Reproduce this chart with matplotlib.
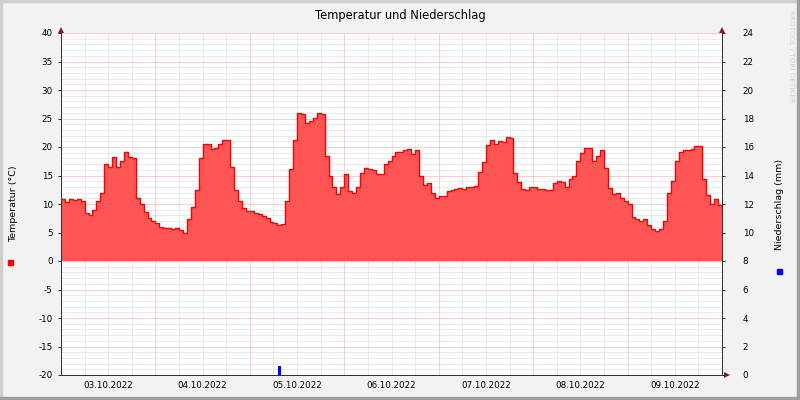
import matplotlib
matplotlib.use('Agg')
import matplotlib.pyplot as plt
import matplotlib.transforms as mtransforms
from matplotlib.patches import Rectangle
import numpy as np

# ---------------- data ----------------
# hourly temperature (°C), hour 0 = 03.10.2022 00:00
temperature = [
    10.9, 10.4, 10.8, 10.7, 10.9, 10.6, 8.4, 8.0, 9.0, 10.5,
    12.0, 17.0, 16.5, 18.3, 16.5, 17.5, 19.2, 18.3, 18.0, 11.0,
    10.0, 8.6, 7.5, 7.0, 6.6, 5.9, 5.8, 5.8, 5.7, 5.8,
    5.4, 5.0, 7.3, 9.5, 12.5, 18.0, 20.6, 20.5, 19.7, 19.9,
    20.6, 21.2, 21.2, 16.5, 12.5, 10.5,
    9.3, 8.7, 8.7, 8.5, 8.2, 7.9, 7.5, 6.8, 6.7, 6.4,
    6.5, 10.5, 16.2, 21.2, 26.0, 25.8, 24.2, 24.6, 25.1, 26.0,
    25.8, 18.5, 15.0, 13.0, 11.7, 13.0, 15.2, 12.2, 12.0, 13.0,
    15.4, 16.4, 16.2, 15.9, 15.3, 15.2, 17.0, 17.6, 18.5, 19.1,
    19.2, 19.4, 19.6, 18.7, 19.5, 15.0, 13.3, 13.7, 12.0, 11.0,
    11.4,
    11.4, 12.2, 12.5, 12.6, 12.8, 12.7, 12.9, 13.0, 13.2, 15.6,
    17.3, 20.4, 21.2, 20.6, 21.1, 20.8, 21.8, 21.5, 15.5, 13.9,
    12.6, 12.5, 12.9, 12.9, 12.7, 12.6, 12.5, 12.4, 13.7, 14.1,
    13.8, 12.9, 14.3, 14.9, 17.5, 18.9, 19.9, 19.9, 17.6, 18.5,
    19.4, 16.3, 12.8, 11.7, 12.0, 11.0, 10.6, 10.0, 7.8, 7.4,
    7.1, 7.3, 6.3, 5.7, 5.3, 5.6, 7.0, 11.9, 14.0, 17.5,
    19.2, 19.5, 19.4, 19.7, 20.2, 20.2, 14.3, 11.5, 10.0, 10.8,
    9.9, 9.3,
]
hours = list(range(len(temperature)))

# precipitation events (hour, mm)
rain_hours = [55.5]
rain_mm = [0.6]

date_labels = ['03.10.2022', '04.10.2022', '05.10.2022', '06.10.2022',
               '07.10.2022', '08.10.2022', '09.10.2022']
date_label_hours = [12, 36, 60, 84, 108, 132, 156]

temp_ticks = [-20, -15, -10, -5, 0, 5, 10, 15, 20, 25, 30, 35, 40]
rain_ticks = [0, 2, 4, 6, 8, 10, 12, 14, 16, 18, 20, 22, 24]

title = 'Temperatur und Niederschlag'
ylabel_left = 'Temperatur (°C)'
ylabel_right = 'Niederschlag (mm)'
watermark = 'RRDTOOL / TOBI OETIKER'

# ---------------- style ----------------
W, H = 800, 400
BG = '#F2F2F2'
AXC = '#333333'
ARROW = '#801F1F'
MINOR = '#D6D6D6'
MAJOR = '#EDA6A6'
FILL = '#FF5555'
LINE = '#FF0000'
plt.rcParams['font.family'] = ['DejaVu Sans']

fig = plt.figure(figsize=(W / 100, H / 100), dpi=100, facecolor=BG)

# outer 3D frame
fig.patches.append(Rectangle((0, 1 - 2 / H), 1, 2 / H, transform=fig.transFigure,
                             color='#CFCFCF', zorder=0))
fig.patches.append(Rectangle((0, 0), 2 / W, 1, transform=fig.transFigure,
                             color='#CFCFCF', zorder=0))
fig.patches.append(Rectangle((0, 0), 1, 3 / H, transform=fig.transFigure,
                             color='#9E9E9E', zorder=0))
fig.patches.append(Rectangle((1 - 3 / W, 0), 3 / W, 1, transform=fig.transFigure,
                             color='#9E9E9E', zorder=0))

x0, x1, y0, y1 = 61, 722, 33, 375
ax = fig.add_axes([x0 / W, 1 - y1 / H, (x1 - x0) / W, (y1 - y0) / H])
ax.set_facecolor('white')
ax.set_xlim(0, 168)
ax.set_ylim(-20, 40)

dot = (0, (1, 1))
lw = 0.72
gkw = dict(lw=lw, ls=dot)
# horizontal grid
for v in np.arange(-20, 41, 1):
    if v % 5 != 0:
        ax.axhline(v, color=MINOR, zorder=0.5, **gkw)
for v in temp_ticks:
    ax.axhline(v, color=MAJOR, zorder=0.6, **gkw)
# vertical grid
for v in np.arange(0, 169, 6):
    if v % 24 != 0:
        ax.axvline(v, color=MINOR, zorder=0.5, **gkw)
for v in np.arange(24, 168, 24):
    ax.axvline(v, color=MAJOR, zorder=0.6, **gkw)

# temperature area
ax.fill_between(hours, 0, temperature, step='post', color=FILL, lw=0, zorder=2)
ax.step(hours, temperature, where='post', color=LINE, lw=1.0, zorder=3)

ax.set_yticks(temp_ticks)
ax.set_yticklabels([str(t) for t in temp_ticks])
ax.set_xticks(date_label_hours)
ax.set_xticklabels(date_labels)
ax.tick_params(axis='x', length=0, pad=4, labelsize=6.3, colors='black')
ax.tick_params(axis='y', length=2, width=lw, pad=4, labelsize=6.3,
               colors=AXC, labelcolor='black')

ax.spines['top'].set_visible(False)
for s in ['left', 'bottom', 'right']:
    ax.spines[s].set_color(AXC)
    ax.spines[s].set_linewidth(lw)

# secondary axis for precipitation
ax2 = ax.twinx()
ax2.set_ylim(0, 24)
ax2.set_xlim(0, 168)
ax2.bar(rain_hours, rain_mm, width=0.8, color='#0000FF', zorder=4)
ax2.set_yticks(rain_ticks)
ax2.set_yticklabels([str(t) for t in rain_ticks])
ax2.tick_params(axis='y', length=2, width=lw, pad=13, labelsize=6.3,
                colors=AXC, labelcolor='black')
for t in ax2.get_yticklabels():
    t.set_horizontalalignment('left')
for s in ['top', 'left', 'bottom']:
    ax2.spines[s].set_visible(False)
ax2.spines['right'].set_color(AXC)
ax2.spines['right'].set_linewidth(lw)

# arrows
up = mtransforms.ScaledTranslation(0, 3.5 / 100, fig.dpi_scale_trans)
right = mtransforms.ScaledTranslation(5 / 100, 0, fig.dpi_scale_trans)
ax.plot([0], [1], marker='^', ms=4.5, color=ARROW, mew=0,
        transform=ax.transAxes + up, clip_on=False, zorder=6)
ax.plot([1], [1], marker='^', ms=4.5, color=ARROW, mew=0,
        transform=ax.transAxes + up, clip_on=False, zorder=6)
ax.plot([1], [0], marker='>', ms=4.5, color=ARROW, mew=0,
        transform=ax.transAxes + right, clip_on=False, zorder=6)

# texts
fig.text(0.5, 1 - 16 / H, title, ha='center', va='center', fontsize=8.3,
         color='black')
fig.text(14 / W, 1 - 204 / H, ylabel_left, ha='center', va='center',
         rotation=90, fontsize=6.8, color='black')
fig.text(780 / W, 1 - 204 / H, ylabel_right, ha='center', va='center',
         rotation=90, fontsize=6.8, color='black')
fig.text(791 / W, 1 - 56 / H, watermark, ha='center', va='center',
         rotation=270, fontsize=5.2, color='#CFCFCF')

# legend squares
fig.patches.append(Rectangle((8 / W, 1 - 265 / H), 5 / W, 5 / H,
                             transform=fig.transFigure, color='#FF0000'))
fig.patches.append(Rectangle((777 / W, 1 - 273.5 / H), 4.5 / W, 4.5 / H,
                             transform=fig.transFigure, color='#0000FF'))

fig.savefig('out.png', dpi=100, facecolor=BG)
